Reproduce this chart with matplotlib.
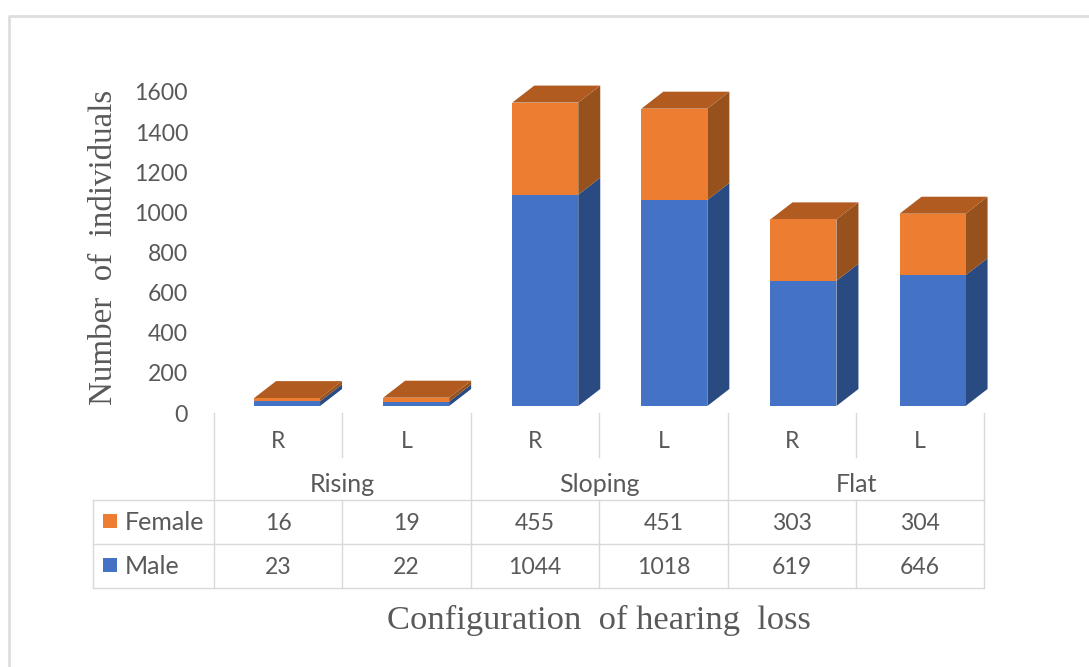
import matplotlib
matplotlib.use('Agg')
import matplotlib.pyplot as plt

# hearing loss counts, one entry per ear
groups = ['Rising', 'Sloping', 'Flat']
ears = ['R', 'L', 'R', 'L', 'R', 'L']
female = [16, 19, 455, 451, 303, 304]
male = [23, 22, 1044, 1018, 619, 646]
y_ticks = [0, 200, 400, 600, 800, 1000, 1200, 1400, 1600]

W, H = 1089, 667
BLUE, BLUE_SIDE = '#4472C4', '#2A4A82'
ORANGE, ORANGE_SIDE, ORANGE_TOP = '#ED7D31', '#97511C', '#B15B20'
TEXT = '#595959'
GRID = '#d9d9d9'
SANS = 'Lato'
SERIF = 'Liberation Serif'
FONT_PX = 23
LABEL_PX = 25
PT = 0.72  # pixels to points at dpi 100

# table columns in pixels
X0, CELL = 214, 128.4
# bars sit on a slightly wider pitch than the table below them
BAR_X0, BAR_CELL = 222.5, 129.1
DEPTH_X, DEPTH_Y = 22, 17
BAR_W = 66 / BAR_CELL
Y_SCALE = 0.2024


def add_axes(left, top, right, bottom):
    return fig.add_axes([left / W, 1 - bottom / H, (right - left) / W, (bottom - top) / H])


def draw_box(ax, pos, base, height, front, side, top=None):
    """Front, side and optional top faces of one stacked segment"""
    dx = DEPTH_X / BAR_CELL
    dy = DEPTH_Y / Y_SCALE
    left = pos - BAR_W / 2
    right = pos + BAR_W / 2
    end = base + height
    ax.fill([right, right + dx, right + dx, right],
            [base, base + dy, end + dy, end], color=side, lw=0, clip_on=False)
    if top:
        ax.fill([left, right, right + dx, left + dx],
                [end, end, end + dy, end + dy], color=top, lw=0, clip_on=False)
    ax.bar(pos, height, BAR_W, bottom=base, color=front, lw=0, clip_on=False)


fig = plt.figure(figsize=(W / 100, H / 100), dpi=100)

# full figure layer in pixels for the frame and the data table
page = fig.add_axes([0, 0, 1, 1])
page.set_xlim(0, W)
page.set_ylim(H, 0)
page.axis('off')
page.plot([9, 9, W], [H, 16, 16], color='#dedede', lw=2)

# axis labels on the back wall of the chart
wall = add_axes(X0, 92, X0 + 6 * CELL, 413)
wall.set_ylim(0, 1600)
wall.set_xlim(0, 6)
wall.set_yticks(y_ticks)
wall.set_xticks([])
wall.tick_params(axis='y', length=0, pad=26 * PT, labelsize=FONT_PX * PT, labelcolor=TEXT)
for label in wall.get_yticklabels():
    label.set_family(SANS)
for spine in wall.spines.values():
    spine.set_visible(False)
wall.patch.set_visible(False)

# the bars stand on a floor a little above the table
bars = add_axes(BAR_X0, 406 - 1600 * Y_SCALE, BAR_X0 + 6 * BAR_CELL, 406)
bars.set_ylim(0, 1600)
bars.set_xlim(0, 6)
bars.axis('off')
for i in range(6):
    pos = i + 0.5
    draw_box(bars, pos, 0, male[i], BLUE, BLUE_SIDE)
    draw_box(bars, pos, male[i], female[i], ORANGE, ORANGE_SIDE, ORANGE_TOP)

# data table grid
col_x = [X0 + i * CELL for i in range(7)]
for i, x in enumerate(col_x):
    if i % 2 == 0:
        page.plot([x, x], [413, 588], color=GRID, lw=1)
    else:
        page.plot([x, x], [413, 457], color=GRID, lw=1)
        page.plot([x, x], [500, 588], color=GRID, lw=1)
page.plot([93, 93], [500, 588], color=GRID, lw=1)
for y in [500, 544, 588]:
    page.plot([93, col_x[-1]], [y, y], color=GRID, lw=1)

text_style = dict(family=SANS, fontsize=FONT_PX * PT, color=TEXT, ha='center', va='center')
for i in range(6):
    x = col_x[i] + CELL / 2
    page.text(x, 442, ears[i], **text_style)
    page.text(x, 523, str(female[i]), **text_style)
    page.text(x, 567, str(male[i]), **text_style)
for i, name in enumerate(groups):
    page.text(col_x[2 * i + 1], 485, name, family=SANS, fontsize=LABEL_PX * PT, color=TEXT,
              ha='center', va='center')

# legend keys in the first table column
for y, color, name in [(521, ORANGE, 'Female'), (565, BLUE, 'Male')]:
    page.fill([103, 117, 117, 103], [y - 7, y - 7, y + 7, y + 7], color=color, lw=0)
    page.text(125, y + 1, name, family=SANS, fontsize=LABEL_PX * PT, color=TEXT, ha='left', va='center')

page.text(104, 247, 'Number  of  individuals', family=SERIF, fontsize=33 * PT, color=TEXT,
          rotation=90, ha='center', va='center')
page.text(599, 620, 'Configuration  of hearing  loss', family=SERIF, fontsize=34.5 * PT, color=TEXT,
          ha='center', va='center')

fig.savefig('out.png', dpi=100)
